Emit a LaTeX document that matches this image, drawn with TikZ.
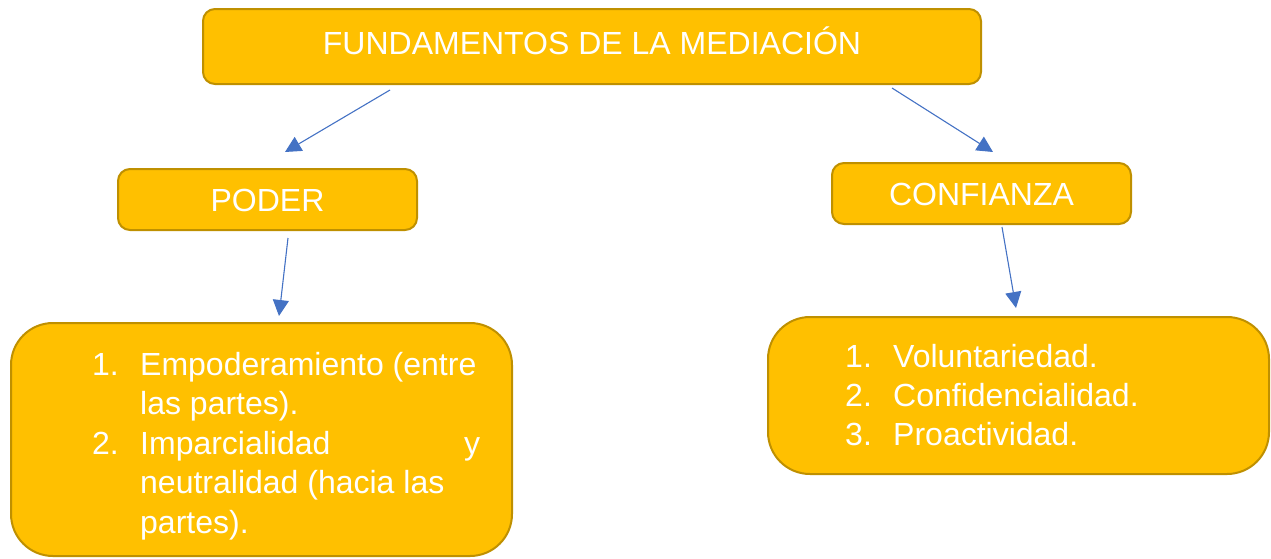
\documentclass[tikz,border=0pt]{standalone}
\usepackage{fontspec}
\setmainfont{Liberation Sans}
\usetikzlibrary{arrows.meta,positioning}
\definecolor{oro}{HTML}{FFC000}
\definecolor{borde}{HTML}{BF9000}
\definecolor{azul}{HTML}{4472C4}

\begin{document}
\begin{tikzpicture}[x=1pt,y=-1pt]

	\tikzstyle{caja}=[rectangle,rounded corners=12pt,draw=borde,fill=oro,line width=2pt,text=white,font=\fontsize{32}{39.5}\selectfont,text height=23pt,text depth=0pt,inner sep=0pt]
	\tikzstyle{lista}=[caja,rounded corners=42pt]
	\tikzstyle{texto}=[text=white,inner sep=0pt,anchor=base west]
	\tikzstyle{flecha}=[draw=azul,line width=1.1pt,-{Triangle[length=16pt,width=16pt]}]

	\useasboundingbox (0,0) rectangle (1271,558);

	\node [caja,minimum width=778pt,minimum height=75pt,text depth=8pt] (fund) at (592,46.5)	{FUNDAMENTOS DE LA MEDIACIÓN};
	\node [caja,minimum width=299pt,minimum height=61pt] (poder) at (267.5,199.5)	{PODER};
	\node [caja,minimum width=299pt,minimum height=61pt] (conf) at (981.5,193.5)	{CONFIANZA};
	\node [lista,minimum width=501pt,minimum height=233pt] (lpoder) at (261.5,439.5)	{};
	\node [lista,minimum width=501pt,minimum height=157pt] (lconf) at (1018.5,395.5)	{};

	% textos de las listas
	\node [texto,font=\fontsize{32}{39.5}\selectfont] (tpoder) at (92,375) {\begin{minipage}[t]{388pt}
		\makebox[48pt][l]{1.}Empoderamiento (entre\\
		\hspace*{48pt}las partes).\\
		\makebox[48pt][l]{2.}Imparcialidad\hfill y\\
		\hspace*{48pt}neutralidad (hacia las\\
		\hspace*{48pt}partes).
	\end{minipage}};
	\node [texto,font=\fontsize{32}{39}\selectfont] (tconf) at (845,367) {\begin{minipage}[t]{380pt}
		\makebox[48pt][l]{1.}Voluntariedad.\\
		\makebox[48pt][l]{2.}Confidencialidad.\\
		\makebox[48pt][l]{3.}Proactividad.
	\end{minipage}};

	\coordinate (f1) at (390,90);
	\coordinate (f2) at (892,88);
	\coordinate (p1) at (285,152);
	\coordinate (c1) at (993,152);
	\coordinate (p2) at (288,238);
	\coordinate (l1) at (279,316);
	\coordinate (c2) at (1002,227);
	\coordinate (l2) at (1016,308);

	\draw [flecha] (f1) -- (p1);
	\draw [flecha] (f2) -- (c1);
	\draw [flecha] (p2) -- (l1);
	\draw [flecha] (c2) -- (l2);
\end{tikzpicture}
\end{document}
